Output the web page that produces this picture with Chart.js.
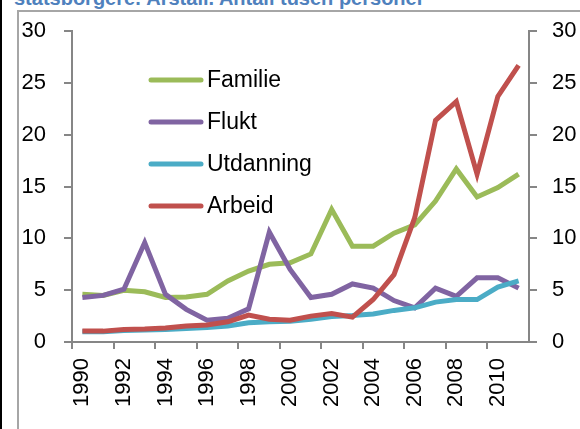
<!DOCTYPE html>
<html>
<head>
<meta charset="utf-8">
<script src="https://cdn.jsdelivr.net/npm/chart.js@4.4.1/dist/chart.umd.min.js"></script>
<style>
  html, body { margin: 0; padding: 0; background: #fff; overflow: hidden; }
  #wrap { position: relative; width: 580px; height: 429px; }
  #title {
    position: absolute; left: 14px; top: -12px; white-space: nowrap;
    font: bold 20px "Liberation Sans", sans-serif; line-height: 20px; color: #4f81bd;
  }
  #frame {
    position: absolute; left: 17px; top: 10px; right: -2px; bottom: -2px;
    border-top: 2px solid #a6a6a6; border-left: 2px solid #a6a6a6;
  }
  #edge { position: absolute; left: 0; top: 0; width: 2px; height: 429px; background: #000; }
  canvas { position: absolute; left: 0; top: 0; }
</style>
</head>
<body>
<div id="wrap">
  <div id="title">statsborgere. Årstall. Antall tusen personer</div>
  <div id="frame"></div>
  <div id="edge"></div>
  <canvas id="chart" width="580" height="429"></canvas>
</div>
<script>
// Years on the x axis
const years = ['1990', '1991', '1992', '1993', '1994', '1995', '1996', '1997', '1998', '1999', '2000',
               '2001', '2002', '2003', '2004', '2005', '2006', '2007', '2008', '2009', '2010', '2011'];

// Thousand persons per reason for immigration
const familie   = [4.6, 4.5, 5.0, 4.85, 4.3, 4.35, 4.6, 5.9, 6.85, 7.5, 7.65, 8.5, 12.8, 9.25, 9.25, 10.5, 11.3, 13.6, 16.7, 14.0, 14.9, 16.2];
const flukt     = [4.3, 4.5, 5.1, 9.6, 4.6, 3.15, 2.1, 2.3, 3.2, 10.6, 7.0, 4.3, 4.6, 5.6, 5.2, 4.0, 3.3, 5.2, 4.4, 6.2, 6.2, 5.2];
const utdanning = [1.0, 1.0, 1.1, 1.15, 1.2, 1.3, 1.4, 1.55, 1.85, 1.95, 2.0, 2.2, 2.45, 2.55, 2.7, 3.05, 3.3, 3.85, 4.1, 4.1, 5.3, 5.9];
const arbeid    = [1.05, 1.05, 1.2, 1.25, 1.35, 1.55, 1.65, 1.95, 2.6, 2.2, 2.1, 2.5, 2.75, 2.4, 4.1, 6.5, 12.0, 21.4, 23.2, 16.2, 23.7, 26.7];

const seriesNames  = ['Familie', 'Flukt', 'Utdanning', 'Arbeid'];
const seriesColors = ['#9bbb59', '#8064a2', '#4bacc6', '#c0504d'];
const seriesData   = [familie, flukt, utdanning, arbeid];

const yTicks = [0, 5, 10, 15, 20, 25, 30];

const axisGray = '#868686';
const tickFont = { family: 'Liberation Sans', size: 22 };

// Legend drawn inside the plot, top-left
const innerLegend = {
    id: 'innerLegend',
    afterDraw(chart) {
        const ctx = chart.ctx;
        ctx.save();
        ctx.font = '23px "Liberation Sans"';
        ctx.textBaseline = 'middle';
        ctx.lineCap = 'round';
        ctx.lineWidth = 5;
        seriesNames.forEach((name, i) => {
            const y = 80 + i * 42;
            ctx.strokeStyle = seriesColors[i];
            ctx.beginPath();
            ctx.moveTo(151, y);
            ctx.lineTo(201, y);
            ctx.stroke();
            ctx.fillStyle = '#000';
            ctx.fillText(name, 207, y + 1);
        });
        ctx.restore();
    }
};

const yScale = (position, width) => ({
    position: position,
    min: 0,
    max: 30,
    afterBuildTicks: s => { s.ticks = yTicks.map(v => ({ value: v })); },
    afterFit: s => { s.width = width; },
    grid: { drawOnChartArea: false, tickLength: 8, color: axisGray, lineWidth: 2 },
    border: { color: axisGray, width: 2 },
    ticks: { color: '#000', font: tickFont, padding: position === 'left' ? 18 : 15 }
});

new Chart(document.getElementById('chart'), {
    type: 'line',
    data: {
        labels: years,
        datasets: seriesNames.map((name, i) => ({
            label: name,
            data: seriesData[i],
            borderColor: seriesColors[i],
            backgroundColor: seriesColors[i],
            borderWidth: 5,
            pointRadius: 0,
            tension: 0,
            order: 4 - i
        }))
    },
    options: {
        responsive: false,
        animation: false,
        layout: { padding: { top: 30, left: 0, right: 0, bottom: 0 } },
        plugins: { legend: { display: false }, tooltip: { enabled: false } },
        scales: {
            x: {
                offset: true,
                afterFit: s => { s.height = 87; },
                grid: {
                    offset: true,
                    drawOnChartArea: false,
                    tickLength: 7,
                    lineWidth: 2,
                    color: c => (c.index % 2 === 0 ? axisGray : 'rgba(0,0,0,0)')
                },
                border: { color: axisGray, width: 2 },
                ticks: {
                    color: '#000',
                    font: tickFont,
                    autoSkip: false,
                    minRotation: 90,
                    maxRotation: 90,
                    padding: 9,
                    callback: (v, i) => (i % 2 === 0 ? years[i] : '')
                }
            },
            y: yScale('left', 72),
            y2: yScale('right', 51)
        }
    },
    plugins: [innerLegend]
});
</script>
</body>
</html>
